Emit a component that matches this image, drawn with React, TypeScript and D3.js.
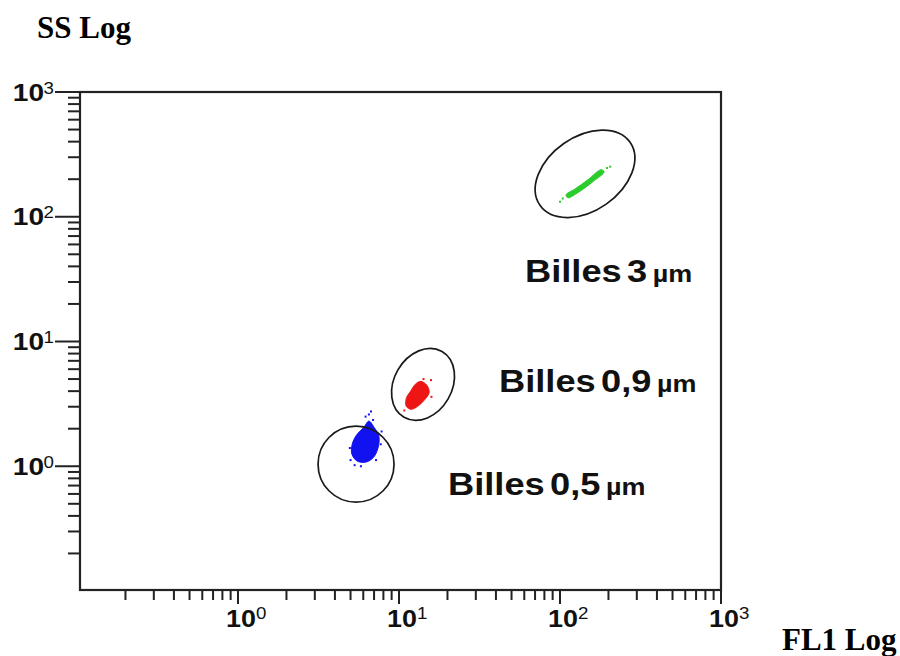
import React from 'react';
import * as d3 from 'd3';

const W = 900;
const H = 656;

// Axis decades (log scale, both axes 10^-1 .. 10^3)
const axisDomain: [number, number] = [0.1, 1000];
const labelExponents = [0, 1, 2, 3];

// Population outlines: [FL1, SS]
const bluePopulation: [number, number][] = [
  [6.5, 2.3], [7.0, 2.05], [7.5, 1.75], [7.4, 1.4], [6.95, 1.18], [6.24, 1.08],
  [5.5, 1.1], [5.1, 1.25], [5.12, 1.5], [5.45, 1.78], [6.05, 2.05],
];
const blueStray: [number, number][] = [
  [6.5, 2.6], [6.9, 2.35], [6.2, 2.5], [6.7, 2.75], [5.0, 1.12], [7.7, 1.5], [5.3, 1.02],
  [4.95, 1.4], [7.8, 1.9], [5.8, 1.0], [7.2, 1.12],
];
const redPopulation: [number, number][] = [
  [13.7, 4.79], [14.9, 4.45], [15.4, 3.91], [14.5, 3.44], [13.3, 3.08], [11.9, 2.86],
  [11.1, 3.02], [11.1, 3.5], [11.9, 4.06], [12.6, 4.53],
];
const redStray: [number, number][] = [[15.8, 4.9], [10.8, 2.8], [14.2, 5.0], [15.9, 3.6]];
const greenPopulation: [number, number][] = [
  [109, 150], [124, 167], [149, 198], [180, 238], [188, 229], [160, 191], [131, 158], [112, 142],
];
const greenStray: [number, number][] = [[104, 140], [196, 246], [100, 132], [205, 252]];

// Gates: centre [FL1, SS]
const gateCenters: [number, number][] = [[5.41, 1.04], [14.1, 4.53], [143, 221]];
const gateLabels = ['Billes 0,5', 'Billes 0,9', 'Billes 3'];
const unitLabel = 'µm';

// Layout (pixels)
const frame = { left: 80, right: 721, top: 92, bottom: 590 };
const gateShapes = [
  { rx: 38, ry: 38, angle: 0 },
  { rx: 38, ry: 29, angle: -60 },
  { rx: 55, ry: 37, angle: -35 },
];
const labelPos = [
  { x: 448, y: 495 },
  { x: 499, y: 392 },
  { x: 525, y: 282 },
];
const popColors = ['#1212f0', '#ee1515', '#2ccc2c'];

export default function App() {
  const x = d3.scaleLog().domain(axisDomain).range([77, 721]);
  const y = d3.scaleLog().domain(axisDomain).range([591, 92]);
  const ticks = x.ticks().filter((t) => t > 0.1 * 1.0001);
  const isMajor = (t: number) => Math.abs(Math.log10(t) - Math.round(Math.log10(t))) < 1e-6;
  const blob = d3
    .line<[number, number]>()
    .x((d) => x(d[0]))
    .y((d) => y(d[1]))
    .curve(d3.curveCatmullRomClosed.alpha(0.5));
  const pops = [
    { outline: bluePopulation, stray: blueStray },
    { outline: redPopulation, stray: redStray },
    { outline: greenPopulation, stray: greenStray },
  ];
  const stretch = 1.17;
  const sans = 'Liberation Sans, Arial, sans-serif';
  const serif = 'Liberation Serif, Times New Roman, serif';

  return (
    <svg width={W} height={H} style={{ position: 'absolute', left: 0, top: 0, background: '#fff' }}>
      <rect x={0} y={0} width={W} height={H} fill="#fff" />
      {/* titles */}
      <text x={37} y={38} fontFamily={serif} fontWeight="bold" fontSize={31} fill="#000">SS Log</text>
      <text x={782} y={650} fontFamily={serif} fontWeight="bold" fontSize={31} fill="#000">FL1 Log</text>

      {/* populations */}
      {pops.map((p, i) => (
        <g key={i} fill={popColors[i]}>
          <path d={blob(p.outline) || ''} stroke={popColors[i]} strokeWidth={1} />
          {p.stray.map((d, j) => (
            <rect key={j} x={x(d[0]) - 1} y={y(d[1]) - 1} width={2} height={2} />
          ))}
        </g>
      ))}

      {/* gates */}
      {gateCenters.map((c, i) => {
        const cx = x(c[0]);
        const cy = y(c[1]);
        const g = gateShapes[i];
        return (
          <ellipse key={i} cx={cx} cy={cy} rx={g.rx} ry={g.ry}
            transform={`rotate(${g.angle} ${cx} ${cy})`}
            fill="none" stroke="#1a1a1a" strokeWidth={1.7} />
        );
      })}

      {/* frame */}
      <rect x={frame.left} y={frame.top} width={frame.right - frame.left} height={frame.bottom - frame.top}
        fill="none" stroke="#222" strokeWidth={2.2} />

      {/* y ticks */}
      {ticks.map((t, i) => {
        const yy = y(t);
        const major = isMajor(t);
        return (
          <line key={'y' + i} x1={major ? 55 : 68} x2={frame.left} y1={yy} y2={yy}
            stroke="#222" strokeWidth={2} />
        );
      })}
      {/* x ticks */}
      {ticks.map((t, i) => {
        const xx = x(t);
        const major = isMajor(t);
        return (
          <line key={'x' + i} x1={xx} x2={xx} y1={frame.bottom} y2={major ? 604 : 600}
            stroke="#222" strokeWidth={2} />
        );
      })}

      {/* y labels */}
      {labelExponents.map((e, i) => {
        const yy = y(Math.pow(10, e));
        return (
          <g key={'yl' + i}>
            <g transform={`translate(44, ${yy + 8.5}) scale(${stretch},1)`}>
              <text textAnchor="end" fontFamily={sans} fontWeight="bold" fontSize={24} fill="#111">10</text>
            </g>
            <g transform={`translate(43.5, ${yy + 1.5}) scale(${stretch},1)`}>
              <text fontFamily={sans} fontSize={16} fill="#111">{e}</text>
            </g>
          </g>
        );
      })}
      {/* x labels */}
      {labelExponents.map((e, i) => {
        const xx = x(Math.pow(10, e));
        return (
          <g key={'xl' + i}>
            <g transform={`translate(${xx - 12}, 627) scale(${stretch},1)`}>
              <text fontFamily={sans} fontWeight="bold" fontSize={23} fill="#111">10</text>
            </g>
            <g transform={`translate(${xx + 18}, 619) scale(${stretch},1)`}>
              <text fontFamily={sans} fontSize={16} fill="#111">{e}</text>
            </g>
          </g>
        );
      })}

      {/* population labels */}
      {gateLabels.map((lab, i) => (
        <g key={'gl' + i} transform={`translate(${labelPos[i].x}, ${labelPos[i].y}) scale(${stretch},1)`}>
          <text fontFamily={sans} fontSize={31} fontWeight="bold" fill="#111" wordSpacing={-4}>
            {lab + ' '}
            <tspan fontSize={23} fontWeight="bold">{unitLabel}</tspan>
          </text>
        </g>
      ))}
    </svg>
  );
}
